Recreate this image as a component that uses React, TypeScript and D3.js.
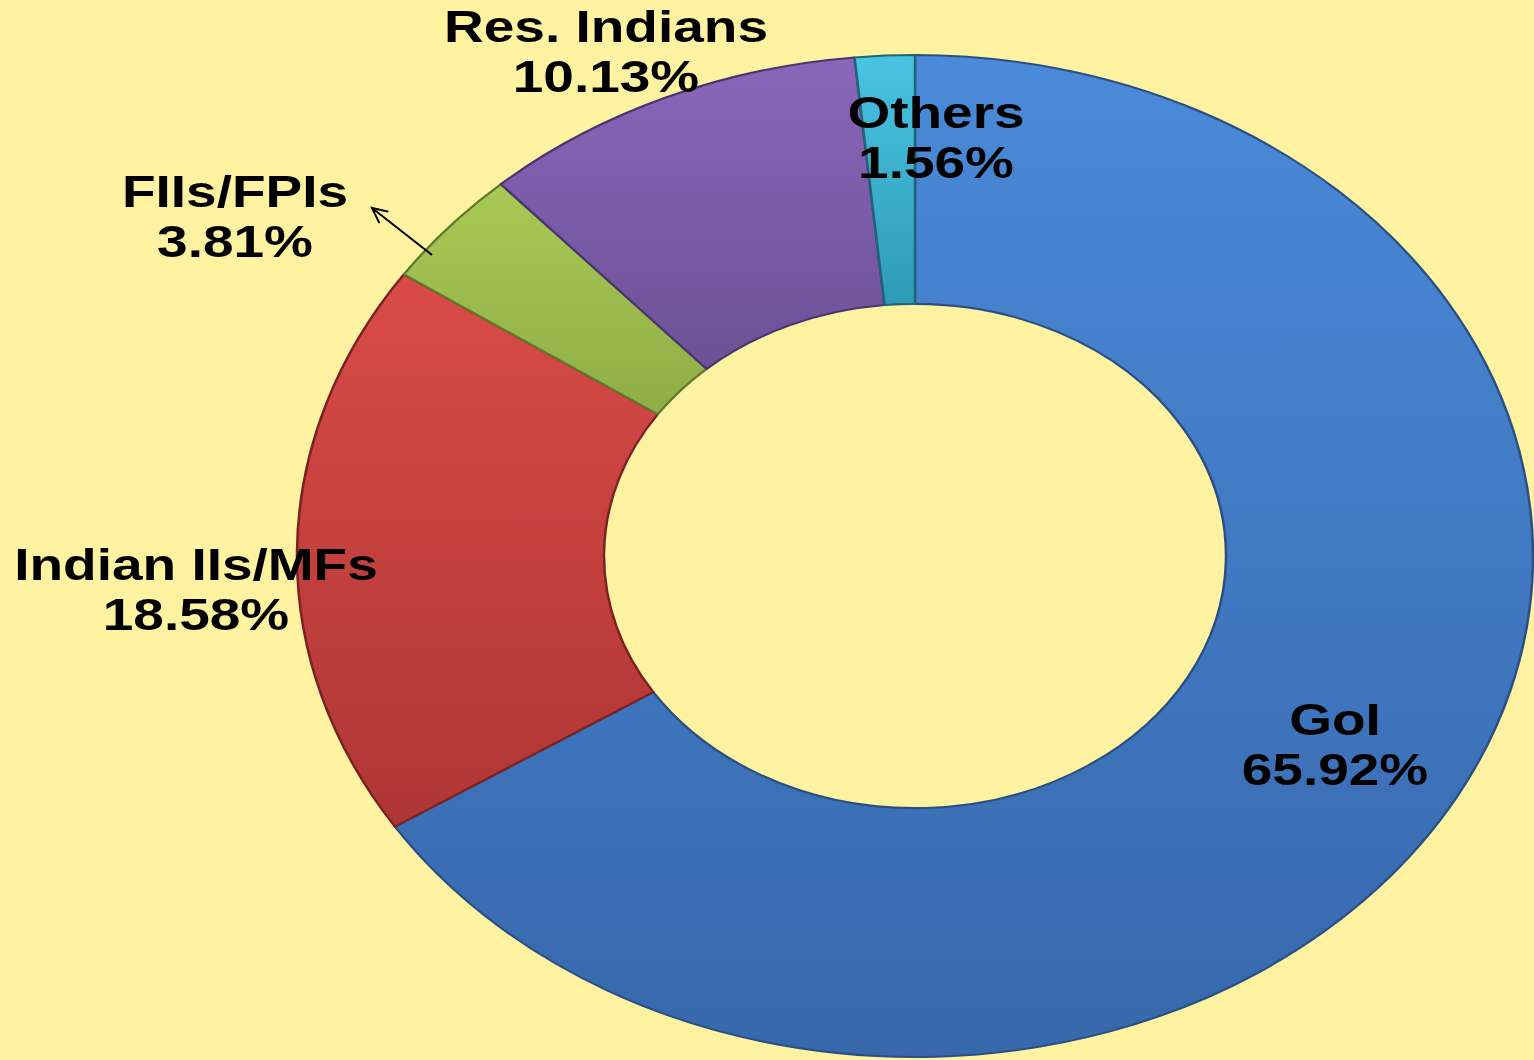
import * as d3 from "d3";

const categories = ["GoI", "Indian IIs/MFs", "FIIs/FPIs", "Res. Indians", "Others"];
const shares = [65.92, 18.58, 3.81, 10.13, 1.56];
const colorsTop = ["#4A8AD8", "#D94B48", "#A9C955", "#8A66BA", "#48C4E2"];
const colorsBottom = ["#3768AC", "#AE3634", "#8EAD46", "#6C5196", "#2F9BB6"];
const strokes = ["#2A4F84", "#7A2222", "#5E7A2A", "#4A3570", "#1F6478"];

// label anchors (centre x, baseline of first line)
const labelPos: [number, number][] = [
  [1335, 735],
  [196, 580],
  [235, 207],
  [606, 42],
  [936, 128],
];

const W = 1534;
const H = 1060;
const cx = 915;
const cy = 556;
const rOuter = 618;
const rInner = 311;
const yScale = 501 / 618;
const textStretch = 1.25;

export default function App() {
  const pie = d3
    .pie<number>()
    .sort(null)
    .value((d) => d)
    .startAngle(0)
    .endAngle(2 * Math.PI);
  const arcs = pie(shares);
  const arc = d3.arc<d3.PieArcDatum<number>>().innerRadius(rInner).outerRadius(rOuter);

  // arrow from FIIs slice towards its label
  const a0: [number, number] = [432, 255];
  const a1: [number, number] = [372, 208];
  const ang = Math.atan2(a1[1] - a0[1], a1[0] - a0[0]);
  const hl = 16;
  const spread = 0.45;
  const head = `M${a1[0] - hl * Math.cos(ang - spread)},${a1[1] - hl * Math.sin(ang - spread)} L${a1[0]},${a1[1]} L${a1[0] - hl * Math.cos(ang + spread)},${a1[1] - hl * Math.sin(ang + spread)}`;

  return (
    <svg width={W} height={H} style={{ display: "block", position: "absolute", left: 0, top: 0 }}>
      <defs>
        {categories.map((c, i) => (
          <linearGradient key={c} id={`g${i}`} x1="0" y1="0" x2="0" y2="1">
            <stop offset="0%" stopColor={colorsTop[i]} />
            <stop offset="100%" stopColor={colorsBottom[i]} />
          </linearGradient>
        ))}
      </defs>
      <rect width={W} height={H} fill="#FFF2A0" />
      <g transform={`translate(${cx},${cy}) scale(1,${yScale})`}>
        {arcs.map((a, i) => (
          <path
            key={categories[i]}
            d={arc(a) ?? ""}
            fill={`url(#g${i})`}
            stroke={strokes[i]}
            strokeWidth={2.5}
            strokeLinejoin="round"
          />
        ))}
      </g>
      <line x1={a0[0]} y1={a0[1]} x2={a1[0]} y2={a1[1]} stroke="#000" strokeWidth={2} />
      <path d={head} fill="none" stroke="#000" strokeWidth={2} strokeLinecap="round" />
      <g fontFamily="'Liberation Sans', Arial, sans-serif" fontWeight="bold" fontSize={44} textAnchor="middle" fill="#000">
        {categories.map((c, i) => (
          <g key={c} transform={`translate(${labelPos[i][0]},${labelPos[i][1]}) scale(${textStretch},1)`}>
            <text x={0} y={0}>{c}</text>
            <text x={0} y={50}>{`${shares[i].toFixed(2)}%`}</text>
          </g>
        ))}
      </g>
    </svg>
  );
}
